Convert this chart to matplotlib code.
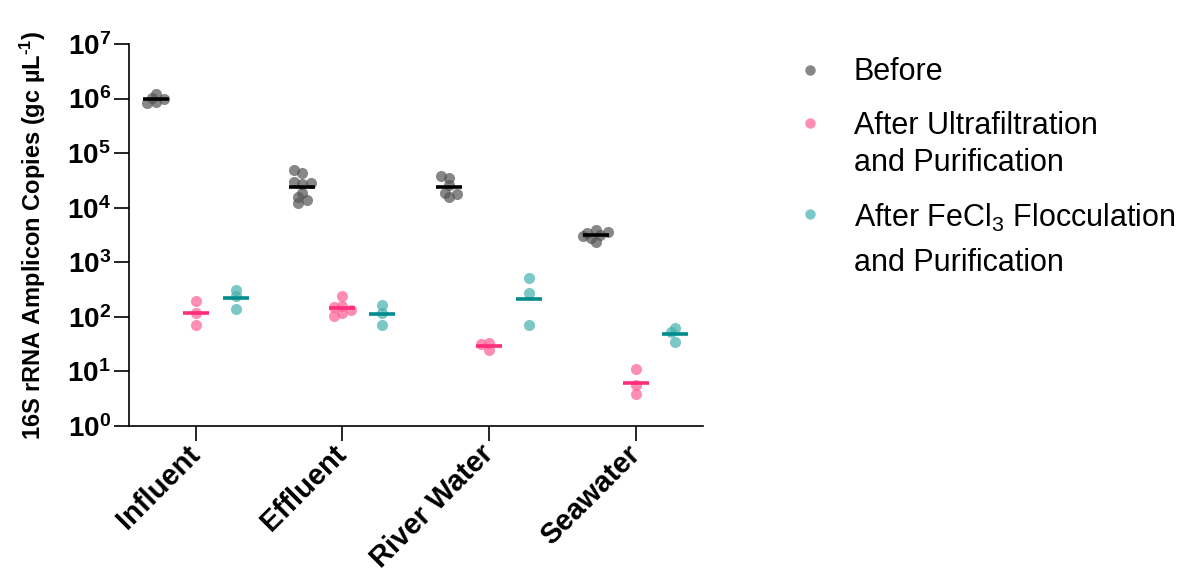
import numpy as np
import matplotlib
matplotlib.use('Agg')
import matplotlib.pyplot as plt
from matplotlib.lines import Line2D
from matplotlib.ticker import FixedLocator, FuncFormatter, NullLocator

plt.rcParams['font.family'] = 'Liberation Sans'
plt.rcParams['mathtext.fontset'] = 'custom'
plt.rcParams['mathtext.rm'] = 'Liberation Sans'
plt.rcParams['mathtext.it'] = 'Liberation Sans:italic'
plt.rcParams['mathtext.bf'] = 'Liberation Sans:bold'

# data (gc per uL)
categories = ['Influent', 'Effluent', 'River Water', 'Seawater']
before = [
    [1.2e6, 8.5e5, 8.3e5, 1.02e6, 9.7e5],
    [44000, 49000, 27000, 30000, 28000, 18600, 15600, 13800, 12100],
    [35000, 38000, 26000, 15600, 18500, 18000],
    [3900, 3500, 3200, 2800, 3000, 2400, 3600],
]
ultrafiltration = [
    [195, 117, 71],
    [240, 158, 150, 117, 103, 133],
    [25, 33, 32],
    [11, 5.6, 3.9],
]
fecl3 = [
    [309, 240, 139],
    [165, 117, 71],
    [513, 273, 71],
    [62, 53, 35],
]
legend_lines = [
    ['Before'],
    ['After Ultrafiltration', 'and Purification'],
    ['After FeCl$_3$ Flocculation', 'and Purification'],
]

W, H = 1181, 573
fig = plt.figure(figsize=(W / 100, H / 100), dpi=100)
ax = fig.add_axes([129 / W, 1 - 426 / H, (703 - 129) / W, (426 - 44) / H])
ax.set_yscale('log')
ax.set_xlim(-0.455, 3.46)
ax.set_ylim(1, 1e7)

point_colors = ['#555555', '#FF5F95', '#45B0B0']
line_colors = ['#000000', '#FF2D7A', '#008C8C']
group_shift = [-0.272, 0.0, 0.272]
diam = 11.0  # marker diameter in pixels


def swarm_x(xc, values):
    """Spread overlapping points sideways (simple beeswarm in pixel space)."""
    pts = ax.transData.transform(np.column_stack([np.full(len(values), xc), values]))
    placed = []
    for px, py in pts:
        for k in [0, -1, 1, -2, 2, -3, 3, -4, 4]:
            cx = px + k * diam * 0.38
            if all((cx - qx) ** 2 + (py - qy) ** 2 >= (diam * 0.5) ** 2 for qx, qy in placed):
                break
        placed.append((cx, py))
    placed = np.array(placed)
    return ax.transData.inverted().transform(placed)[:, 0]


for s, series in enumerate([before, ultrafiltration, fecl3]):
    for i, vals in enumerate(series):
        xc = i + group_shift[s]
        xs = swarm_x(xc, vals)
        ax.plot(xs, vals, 'o', ms=8, color=point_colors[s], alpha=0.7,
                markeredgewidth=0, zorder=2, clip_on=False)
        gmean = 10 ** np.mean(np.log10(vals))
        ax.plot([xc - 0.089, xc + 0.089], [gmean, gmean], color=line_colors[s],
                lw=2.6, solid_capstyle='butt', zorder=3)

for side in ['top', 'right']:
    ax.spines[side].set_visible(False)
for side in ['left', 'bottom']:
    ax.spines[side].set_linewidth(1.2)

ax.yaxis.set_major_locator(FixedLocator([10.0 ** k for k in range(8)]))
ax.yaxis.set_minor_locator(NullLocator())
ax.yaxis.set_major_formatter(FuncFormatter(
    lambda v, p: r'$\mathbf{10^{%d}}$' % int(round(np.log10(v)))))
ax.tick_params(axis='y', length=11, width=1.2, labelsize=20, pad=2)

ax.set_xticks(range(len(categories)))
ax.set_xticklabels(categories, rotation=45, ha='right', va='center',
                   rotation_mode='anchor', fontsize=21, fontweight='bold')
ax.tick_params(axis='x', length=11, width=1.2, pad=6)

ax.set_ylabel('16S rRNA Amplicon Copies (gc µL$^{\\mathbf{\u20101}}$)',
              fontsize=17, fontweight='bold', labelpad=14)

# legend drawn by hand so marker sits on the first line of each entry
marker_y = [70, 123, 214]
baselines = [[80], [134, 171], [227, 271]]
for s in range(3):
    fig.add_artist(Line2D([810 / W], [1 - marker_y[s] / H], transform=fig.transFigure,
                          marker='o', ms=7.5, color=point_colors[s], alpha=0.7,
                          markeredgewidth=0, linestyle='none'))
    for line, yb in zip(legend_lines[s], baselines[s]):
        fig.text(854 / W, 1 - yb / H, line, fontsize=22, va='baseline', ha='left')

fig.savefig('out.png', dpi=100)
